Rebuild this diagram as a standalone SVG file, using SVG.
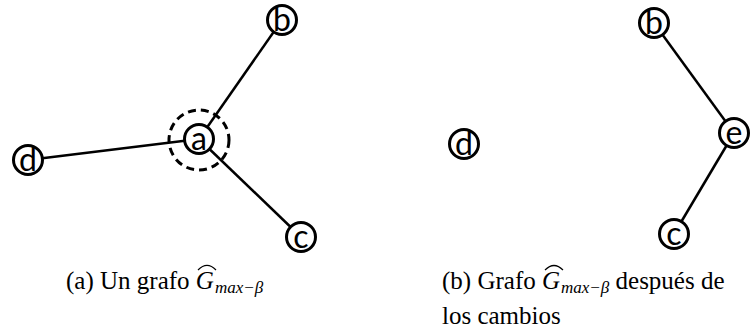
<svg xmlns="http://www.w3.org/2000/svg" width="754" height="332" viewBox="0 0 754 332">
  <style>
    .node circle { fill: #fff; stroke: #000; stroke-width: 3; }
    .node text { font-family: "Lato", "Open Sans", "DejaVu Sans", sans-serif; font-size: 32px; text-anchor: middle; fill: #000; }
    .edges line { stroke: #000; stroke-width: 2.5; }
    .focus { fill: none; stroke: #000; stroke-width: 3; stroke-dasharray: 8 5; }
    .cap { font-family: "Liberation Serif", "Times New Roman", serif; font-size: 25px; fill: #000; }
    .cap .m { font-style: italic; }
    .cap .s { font-style: italic; font-size: 17px; }
    .hat { fill: none; stroke: #000; stroke-width: 1.2; }
  </style>

  <!-- left graph: star around a -->
  <g id="edges-left" class="edges">
    <line x1="199" y1="139" x2="282" y2="20"/>
    <line x1="199" y1="139" x2="301" y2="237"/>
    <line x1="199" y1="139" x2="28" y2="160"/>
  </g>
  <circle class="focus" cx="199" cy="140" r="30"/>
  <g id="node-a" class="node"><circle cx="199" cy="139" r="14.5"/><text x="199" y="150">a</text></g>
  <g id="node-b-left" class="node"><circle cx="282" cy="20" r="14.5"/><text x="282" y="31">b</text></g>
  <g id="node-c-left" class="node"><circle cx="301" cy="237" r="14.5"/><text x="301" y="248">c</text></g>
  <g id="node-d-left" class="node"><circle cx="28" cy="160" r="14.5"/><text x="28" y="171">d</text></g>

  <!-- right graph: b - e - c, d isolated -->
  <g id="edges-right" class="edges">
    <line x1="654" y1="23" x2="734" y2="133"/>
    <line x1="734" y1="133" x2="674" y2="234"/>
  </g>
  <g id="node-b-right" class="node"><circle cx="654" cy="23" r="14.5"/><text x="654" y="34">b</text></g>
  <g id="node-e" class="node"><circle cx="734" cy="133" r="14.5"/><text x="734" y="144">e</text></g>
  <g id="node-c-right" class="node"><circle cx="674" cy="234" r="14.5"/><text x="674" y="245">c</text></g>
  <g id="node-d-right" class="node"><circle cx="464" cy="144" r="14.5"/><text x="464" y="155">d</text></g>

  <!-- captions -->
  <text class="cap" x="66" y="289">(a) Un grafo <tspan class="m">G</tspan><tspan class="s" dx="1" dy="4">max−β</tspan></text>
  <path class="hat" d="M198 270 Q207 261 216 270"/>
  <text class="cap" x="442" y="289">(b) Grafo <tspan class="m">G</tspan><tspan class="s" dx="1" dy="4">max−β</tspan><tspan dy="-4"> después de</tspan></text>
  <path class="hat" d="M545 270 Q554 261 563 270"/>
  <text class="cap" x="442" y="324">los cambios</text>
</svg>
